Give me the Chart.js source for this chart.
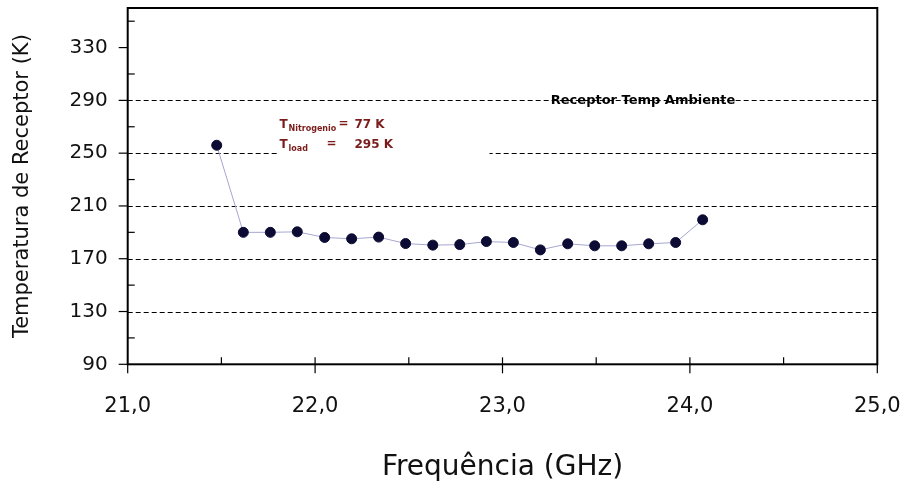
<!DOCTYPE html>
<html>
<head>
<meta charset="utf-8">
<script src="https://cdn.jsdelivr.net/npm/chart.js@4/dist/chart.umd.min.js"></script>
<style>
  html, body { margin: 0; padding: 0; background: #fff; }
  canvas { display: block; }
</style>
</head>
<body>
<canvas id="c" width="908" height="491"></canvas>
<script>
// ---- data ----
const freqGHz = [21.475, 21.617, 21.761, 21.905, 22.051, 22.195, 22.339, 22.483, 22.628, 22.772,
                 22.914, 23.058, 23.202, 23.348, 23.492, 23.636, 23.780, 23.924, 24.068];
const tempK   = [256, 190, 190, 190.4, 186.1, 185.1, 186.4, 181.5, 180.3, 180.7,
                 183.0, 182.3, 176.7, 181.3, 179.8, 179.8, 181.3, 182.3, 199.5];

const xMajorTicks = [21, 22, 23, 24, 25];
const xMinorTicks = [21.5, 22.5, 23.5, 24.5];
const yMajorTicks = [90, 130, 170, 210, 250, 290, 330];
const yMinorTicks = [110, 150, 190, 230, 270, 310, 350];
const yGridLines  = [130, 170, 210, 250, 290];

const xTitle = 'Frequência (GHz)';
const yTitle = 'Temperatura de Receptor (K)';
const refLineLabel = 'Receptor Temp Ambiente';
const refLineLabelPos = { x: 23.75, y: 290 };
const notePos = { x: 21.81, y: 272.5 };

const points = freqGHz.map((f, i) => ({ x: f, y: tempK[i] }));

function noPad(s) { s.paddingTop = 0; s.paddingBottom = 0; s.paddingLeft = 0; s.paddingRight = 0; }

const framePlugin = {
  id: 'frame',
  beforeDatasetsDraw(chart) {
    const { ctx, chartArea: a, scales: { x, y } } = chart;
    ctx.save();
    // dashed grid lines
    ctx.strokeStyle = '#000';
    ctx.lineWidth = 1;
    ctx.setLineDash([5, 3]);
    yGridLines.forEach(v => {
      const py = Math.round(y.getPixelForValue(v)) + 0.5;
      ctx.beginPath(); ctx.moveTo(a.left, py); ctx.lineTo(a.right, py); ctx.stroke();
    });
    ctx.setLineDash([]);
    // white box behind the note
    const nx = x.getPixelForValue(notePos.x), ny = y.getPixelForValue(notePos.y);
    ctx.fillStyle = '#fff';
    ctx.fillRect(nx - 2, ny - 13, 212, 50);
    // frame
    ctx.strokeStyle = '#000';
    ctx.lineWidth = 2;
    ctx.strokeRect(a.left, a.top, a.right - a.left, a.bottom - a.top);
    // ticks
    ctx.lineWidth = 1.2;
    yMajorTicks.forEach(v => {
      const py = y.getPixelForValue(v);
      ctx.beginPath(); ctx.moveTo(a.left - 9, py); ctx.lineTo(a.left, py); ctx.stroke();
    });
    yMinorTicks.forEach(v => {
      const py = y.getPixelForValue(v);
      ctx.beginPath(); ctx.moveTo(a.left, py); ctx.lineTo(a.left + 7, py); ctx.stroke();
    });
    xMajorTicks.forEach(v => {
      const px = x.getPixelForValue(v);
      const up = (v === xMajorTicks[0] || v === xMajorTicks[xMajorTicks.length - 1]) ? 0 : 7;
      ctx.beginPath(); ctx.moveTo(px, a.bottom - up); ctx.lineTo(px, a.bottom + 9); ctx.stroke();
    });
    xMinorTicks.forEach(v => {
      const px = x.getPixelForValue(v);
      ctx.beginPath(); ctx.moveTo(px, a.bottom - 7); ctx.lineTo(px, a.bottom); ctx.stroke();
    });
    ctx.restore();
  },
  afterDatasetsDraw(chart) {
    const { ctx, scales: { x, y } } = chart;
    ctx.save();
    // reference line label
    ctx.fillStyle = '#000';
    ctx.font = 'bold 13px "DejaVu Sans"';
    ctx.textAlign = 'center';
    ctx.textBaseline = 'middle';
    ctx.fillText(refLineLabel, x.getPixelForValue(refLineLabelPos.x), y.getPixelForValue(refLineLabelPos.y));
    // note
    const nx = x.getPixelForValue(notePos.x), ny = y.getPixelForValue(notePos.y);
    ctx.fillStyle = '#7a1c1c';
    ctx.textAlign = 'left';
    ctx.textBaseline = 'alphabetic';
    const big = 'bold 12px "DejaVu Sans"', small = 'bold 8px "DejaVu Sans"';
    // row 1
    ctx.font = big;   ctx.fillText('T', nx, ny + 5);
    ctx.font = small; ctx.fillText('Nitrogenio', nx + 9, ny + 8);
    ctx.font = big;   ctx.fillText('=', nx + 59, ny + 4);
    ctx.fillText('77 K', nx + 75, ny + 5);
    // row 2
    ctx.font = big;   ctx.fillText('T', nx, ny + 25);
    ctx.font = small; ctx.fillText('load', nx + 9, ny + 28);
    ctx.font = big;   ctx.fillText('=', nx + 47, ny + 24);
    ctx.fillText('295 K', nx + 75, ny + 25);
    ctx.restore();
  }
};

new Chart(document.getElementById('c'), {
  type: 'scatter',
  data: {
    datasets: [{
      data: points,
      showLine: true,
      borderColor: '#a6a6d2',
      borderWidth: 1,
      pointBackgroundColor: '#0b0b33',
      pointBorderColor: '#0b0b33',
      pointRadius: 5,
      pointBorderWidth: 1
    }]
  },
  options: {
    responsive: false,
    animation: false,
    devicePixelRatio: 1,
    layout: { padding: { top: 8, right: 30.7, left: 0, bottom: 0 } },
    plugins: { legend: { display: false }, tooltip: { enabled: false } },
    scales: {
      x: {
        type: 'linear',
        min: 21, max: 25,
        afterBuildTicks: s => { s.ticks = xMajorTicks.map(v => ({ value: v })); },
        afterFit: s => { s.height = 126.7; noPad(s); },
        grid: { display: false, drawTicks: false },
        border: { display: false },
        ticks: {
          padding: 30,
          maxRotation: 0,
          autoSkip: false,
          color: '#111',
          font: { family: 'DejaVu Sans', size: 21 },
          callback: v => v.toFixed(1).replace('.', ',')
        },
        title: {
          display: true, text: xTitle, color: '#111',
          font: { family: 'DejaVu Sans', size: 28 },
          padding: { top: 0, bottom: 6 }
        }
      },
      y: {
        type: 'linear',
        min: 90, max: 360,
        afterBuildTicks: s => { s.ticks = yMajorTicks.map(v => ({ value: v })); },
        afterFit: s => { s.width = 127.7; noPad(s); },
        grid: { display: false, drawTicks: false },
        border: { display: false },
        ticks: {
          padding: 20,
          autoSkip: false,
          color: '#111',
          font: { family: 'DejaVu Sans', size: 20 },
          callback: v => String(v)
        },
        title: {
          display: true, text: yTitle, color: '#111',
          font: { family: 'DejaVu Sans', size: 21 },
          padding: { top: 10, bottom: 0 }
        }
      }
    }
  },
  plugins: [framePlugin]
});
</script>
</body>
</html>
